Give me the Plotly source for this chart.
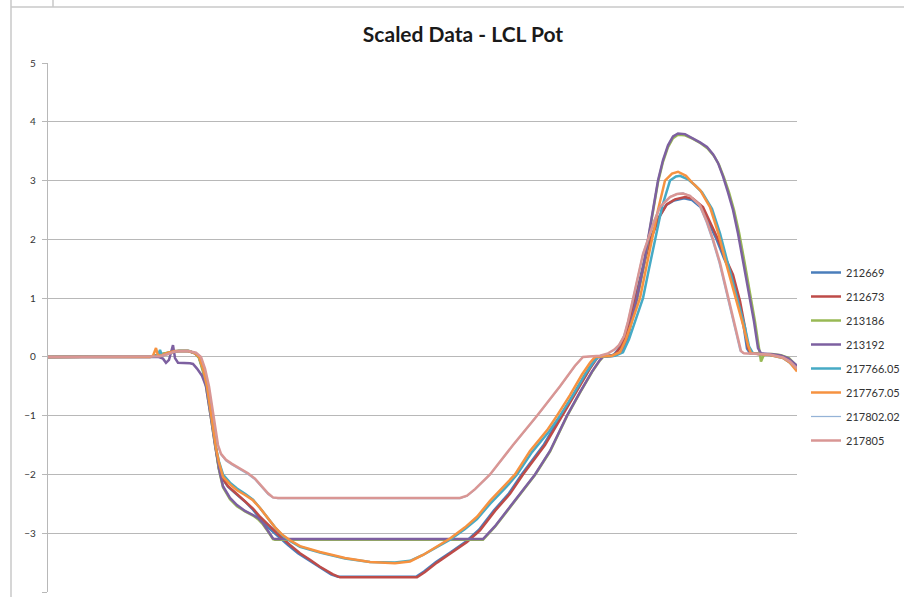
import plotly.graph_objects as go

# Sample index (time steps) and scaled potentiometer readings per unit
t_212669 = [0, 102, 106, 111, 116, 123, 131, 141, 147, 151, 155, 159, 162, 165, 168, 171, 174, 180, 188, 197, 205, 212, 220, 229, 240, 250, 260, 270, 283, 290, 368, 376, 388, 403, 418, 431, 446, 461, 474, 496, 513, 529, 541, 549, 565, 573, 581, 587, 593, 599, 604, 611, 618, 626, 636, 644, 654, 661, 668, 676, 684, 691, 696, 699, 702, 712, 727, 737, 744, 749]
v_212669 = [0, 0, 0.02, 0.04, 0.05, 0.08, 0.1, 0.1, 0.06, -0.01, -0.22, -0.52, -0.87, -1.22, -1.62, -1.92, -2.06, -2.21, -2.33, -2.46, -2.6, -2.75, -2.9, -3.04, -3.2, -3.34, -3.45, -3.57, -3.7, -3.74, -3.74, -3.65, -3.49, -3.32, -3.14, -2.94, -2.61, -2.32, -1.99, -1.49, -0.99, -0.54, -0.19, 0.0, 0.02, 0.19, 0.58, 0.98, 1.43, 1.83, 2.08, 2.38, 2.58, 2.66, 2.7, 2.67, 2.53, 2.28, 2.02, 1.68, 1.38, 0.93, 0.48, 0.14, 0.06, 0.05, 0.03, -0.02, -0.1, -0.19]

t_212673 = [0, 102, 105, 110, 115, 122, 130, 140, 146, 151, 155, 159, 162, 165, 168, 171, 174, 180, 188, 197, 205, 212, 220, 229, 242, 252, 262, 272, 285, 292, 369, 377, 389, 404, 419, 432, 447, 462, 475, 497, 514, 530, 542, 550, 566, 574, 582, 588, 594, 600, 605, 612, 619, 627, 637, 645, 655, 662, 669, 677, 685, 692, 697, 700, 703, 712, 727, 737, 744, 749]
v_212673 = [0, 0, 0.01, 0.03, 0.05, 0.08, 0.1, 0.1, 0.07, 0.0, -0.2, -0.5, -0.85, -1.2, -1.6, -1.9, -2.05, -2.2, -2.32, -2.45, -2.58, -2.72, -2.86, -3.0, -3.2, -3.34, -3.45, -3.57, -3.7, -3.75, -3.75, -3.66, -3.5, -3.33, -3.15, -2.95, -2.62, -2.33, -2.0, -1.5, -1.0, -0.55, -0.2, 0.0, 0.02, 0.2, 0.6, 1.0, 1.45, 1.85, 2.1, 2.4, 2.6, 2.68, 2.72, 2.69, 2.55, 2.3, 2.04, 1.7, 1.4, 0.95, 0.5, 0.15, 0.06, 0.05, 0.03, -0.02, -0.1, -0.2]

t_213186 = [0, 102, 106, 112, 118, 125, 132, 141, 147, 151, 155, 158, 161, 164, 167, 170, 172, 175, 182, 189, 197, 205, 210, 215, 220, 225, 227, 435, 447, 462, 475, 487, 502, 519, 532, 544, 552, 555, 564, 570, 574, 579, 584, 589, 595, 600, 605, 610, 615, 620, 625, 630, 637, 645, 653, 660, 666, 671, 676, 681, 686, 691, 697, 703, 707, 711, 713, 716, 724, 733, 741, 749]
v_213186 = [0, 0, 0.01, 0.04, 0.06, 0.09, 0.1, 0.1, 0.06, -0.02, -0.25, -0.5, -0.82, -1.17, -1.52, -1.82, -2.0, -2.22, -2.42, -2.54, -2.63, -2.7, -2.76, -2.85, -2.97, -3.1, -3.11, -3.11, -2.89, -2.56, -2.26, -2.01, -1.61, -1.01, -0.61, -0.26, -0.06, 0.0, 0.03, 0.05, 0.1, 0.29, 0.63, 0.98, 1.48, 1.98, 2.52, 2.97, 3.32, 3.57, 3.72, 3.78, 3.77, 3.71, 3.63, 3.54, 3.42, 3.27, 3.05, 2.8, 2.5, 2.12, 1.57, 1.02, 0.6, 0.15, -0.08, 0.04, 0.05, 0.03, -0.02, -0.16]

t_213192 = [0, 102, 110, 115, 118, 121, 125, 127, 130, 142, 145, 149, 154, 158, 161, 164, 167, 170, 172, 175, 182, 189, 197, 205, 210, 215, 220, 225, 227, 435, 447, 462, 475, 487, 502, 519, 532, 544, 552, 555, 564, 570, 574, 579, 584, 589, 595, 600, 605, 610, 615, 620, 625, 630, 637, 644, 652, 659, 665, 670, 675, 680, 685, 690, 696, 702, 706, 710, 713, 722, 732, 740, 749]
v_213192 = [0, 0, 0.0, -0.03, -0.1, -0.05, 0.2, -0.02, -0.1, -0.11, -0.12, -0.2, -0.32, -0.5, -0.8, -1.15, -1.5, -1.8, -1.98, -2.2, -2.4, -2.52, -2.62, -2.69, -2.74, -2.83, -2.95, -3.09, -3.1, -3.1, -2.88, -2.55, -2.25, -2.0, -1.6, -1.0, -0.6, -0.25, -0.05, 0.0, 0.03, 0.06, 0.1, 0.3, 0.65, 1.0, 1.5, 2.0, 2.55, 3.0, 3.35, 3.6, 3.75, 3.8, 3.79, 3.73, 3.65, 3.57, 3.45, 3.3, 3.07, 2.8, 2.5, 2.1, 1.55, 1.0, 0.6, 0.15, 0.06, 0.05, 0.03, -0.02, -0.15]

t_217766 = [0, 102, 106, 110, 112, 114, 120, 128, 140, 146, 151, 155, 159, 162, 165, 168, 171, 175, 182, 189, 197, 205, 212, 219, 227, 234, 242, 252, 272, 297, 322, 347, 362, 375, 389, 402, 417, 429, 442, 459, 469, 484, 501, 512, 525, 537, 545, 550, 567, 575, 581, 587, 595, 601, 607, 614, 622, 628, 632, 640, 647, 654, 664, 672, 680, 689, 697, 701, 705, 722, 735, 742, 749]
v_217766 = [0, 0, 0.01, 0.03, 0.12, 0.02, 0.06, 0.1, 0.1, 0.07, 0.0, -0.2, -0.5, -0.85, -1.2, -1.55, -1.78, -2.0, -2.14, -2.24, -2.33, -2.43, -2.57, -2.73, -2.9, -3.03, -3.13, -3.23, -3.33, -3.43, -3.49, -3.5, -3.47, -3.37, -3.24, -3.11, -2.93, -2.76, -2.5, -2.2, -2.0, -1.62, -1.27, -1.0, -0.65, -0.3, -0.1, 0.0, 0.02, 0.08, 0.3, 0.6, 1.0, 1.5, 2.0, 2.55, 3.0, 3.07, 3.08, 3.02, 2.92, 2.8, 2.52, 2.1, 1.58, 1.03, 0.5, 0.18, 0.06, 0.03, -0.02, -0.1, -0.22]

t_217767 = [0, 102, 105, 108, 110, 114, 120, 127, 140, 146, 151, 155, 159, 162, 165, 168, 171, 175, 182, 189, 197, 205, 212, 219, 227, 234, 242, 252, 272, 297, 322, 347, 362, 375, 389, 402, 417, 429, 442, 459, 467, 482, 499, 509, 522, 534, 542, 547, 564, 572, 578, 584, 592, 598, 604, 610, 617, 624, 630, 638, 645, 652, 662, 670, 678, 687, 695, 700, 703, 722, 735, 742, 749]
v_217767 = [0, 0, 0.02, 0.15, 0.02, 0.03, 0.07, 0.1, 0.1, 0.07, 0.0, -0.2, -0.5, -0.85, -1.2, -1.55, -1.8, -2.04, -2.17, -2.27, -2.35, -2.44, -2.57, -2.73, -2.9, -3.02, -3.12, -3.22, -3.32, -3.42, -3.49, -3.51, -3.48, -3.37, -3.23, -3.09, -2.9, -2.72, -2.45, -2.15, -2.0, -1.6, -1.25, -1.0, -0.65, -0.3, -0.1, 0.0, 0.02, 0.08, 0.3, 0.6, 1.0, 1.5, 2.0, 2.5, 3.0, 3.12, 3.15, 3.08, 2.95, 2.84, 2.55, 2.12, 1.6, 1.05, 0.55, 0.2, 0.06, 0.03, -0.02, -0.1, -0.25]

t_217802 = [0, 102, 112, 120, 127, 140, 148, 153, 157, 161, 164, 167, 170, 173, 178, 184, 192, 200, 207, 214, 220, 225, 230, 412, 419, 427, 442, 465, 489, 512, 527, 535, 552, 560, 566, 571, 576, 580, 585, 590, 595, 600, 606, 612, 622, 629, 635, 642, 651, 658, 664, 671, 678, 683, 688, 692, 695, 722, 735, 742, 749]
v_217802 = [0, 0, 0.01, 0.05, 0.09, 0.1, 0.07, 0.0, -0.21, -0.51, -0.86, -1.21, -1.52, -1.67, -1.77, -1.84, -1.92, -2.0, -2.09, -2.22, -2.34, -2.4, -2.41, -2.41, -2.37, -2.26, -2.01, -1.51, -1.01, -0.51, -0.16, 0.0, 0.02, 0.06, 0.12, 0.21, 0.37, 0.62, 1.02, 1.42, 1.77, 2.02, 2.32, 2.56, 2.73, 2.78, 2.79, 2.74, 2.58, 2.3, 2.0, 1.6, 1.1, 0.7, 0.35, 0.1, 0.06, 0.04, -0.01, -0.08, -0.19]

t_217805 = [0, 102, 112, 120, 127, 140, 148, 153, 157, 161, 164, 167, 170, 173, 178, 184, 192, 200, 207, 214, 220, 225, 230, 412, 419, 427, 442, 465, 489, 512, 527, 535, 552, 560, 566, 571, 576, 580, 585, 590, 595, 600, 606, 612, 622, 629, 635, 642, 652, 659, 665, 672, 679, 684, 689, 693, 696, 722, 735, 742, 749]
v_217805 = [0, 0, 0.01, 0.05, 0.09, 0.1, 0.07, 0.0, -0.2, -0.5, -0.85, -1.2, -1.5, -1.65, -1.75, -1.82, -1.9, -1.98, -2.07, -2.2, -2.32, -2.39, -2.4, -2.4, -2.36, -2.25, -2.0, -1.5, -1.0, -0.5, -0.15, 0.0, 0.02, 0.06, 0.12, 0.2, 0.35, 0.6, 1.0, 1.4, 1.75, 2.0, 2.3, 2.55, 2.72, 2.77, 2.78, 2.74, 2.58, 2.3, 2.0, 1.6, 1.1, 0.7, 0.35, 0.1, 0.06, 0.04, -0.01, -0.08, -0.2]

series_names = ["212669", "212673", "213186", "213192", "217766.05", "217767.05", "217802.02", "217805"]
series_colors = ["#4A7EBB", "#BE4B48", "#98B954", "#7D60A0", "#46AAC5", "#F69240", "#95B3D7", "#D99694"]
series_widths = [2.5, 2.5, 2.5, 2.5, 2.5, 2.5, 1.25, 2.5]

y_ticks = [-4, -3, -2, -1, 0, 1, 2, 3, 4, 5]

series_data = [
    (t_212669, v_212669), (t_212673, v_212673), (t_213186, v_213186), (t_213192, v_213192),
    (t_217766, v_217766), (t_217767, v_217767), (t_217802, v_217802), (t_217805, v_217805),
]

GRID = "#B8B8B8"
FONT = "Lato, Carlito, 'Open Sans', sans-serif"

fig = go.Figure()
for name, (t, v), color, w in zip(series_names, series_data, series_colors, series_widths):
    fig.add_trace(go.Scatter(
        x=t, y=v, mode="lines", name=name, legendgroup=name,
        line=dict(color=color, width=w),
    ))

fig.update_layout(
    width=904, height=597,
    margin=dict(l=48, r=107, t=63, b=5, autoexpand=False),
    paper_bgcolor="white", plot_bgcolor="white",
    font=dict(family=FONT, color="#333333"),
    title=dict(
        text="<b>Scaled Data - LCL Pot</b>",
        x=463 / 904, xref="container", xanchor="center",
        y=1 - 35 / 597, yref="container", yanchor="middle",
        font=dict(size=21, color="#1a1a1a", family=FONT),
    ),
    showlegend=True,
    legend=dict(
        xref="container", x=806 / 904, xanchor="left",
        yref="container", y=1 - 258 / 597, yanchor="top",
        font=dict(size=11, color="#333333", family=FONT),
        tracegroupgap=5, bgcolor="rgba(0,0,0,0)", borderwidth=0,
    ),
    xaxis=dict(
        range=[0, 749], showgrid=False, zeroline=False, showline=False,
        showticklabels=False, ticks="",
    ),
    yaxis=dict(
        range=[-4, 5], tickvals=y_ticks, showgrid=True, gridcolor=GRID, gridwidth=1.3,
        zeroline=False, showline=True, linecolor=GRID, linewidth=1.3,
        ticks="outside", ticklen=5, tickcolor=GRID, tickwidth=1.3,
        ticklabelstandoff=4,
        tickfont=dict(size=10, color="#333333", family=FONT),
    ),
)

# Outer chart frame and the neighbouring cell edge above it
BORDER = "#C8C8C8"
def px_x(p):
    return (p - 48) / 749
def px_y(p):
    return (592 - p) / 529
for x0, y0, x1, y1 in [(11, 0, 11, 597), (11, 7, 904, 7), (53, 0, 53, 7)]:
    fig.add_shape(type="line", xref="paper", yref="paper",
                  x0=px_x(x0), y0=px_y(y0), x1=px_x(x1), y1=px_y(y1),
                  line=dict(color=BORDER, width=1.5))

fig.write_html("out.html")
